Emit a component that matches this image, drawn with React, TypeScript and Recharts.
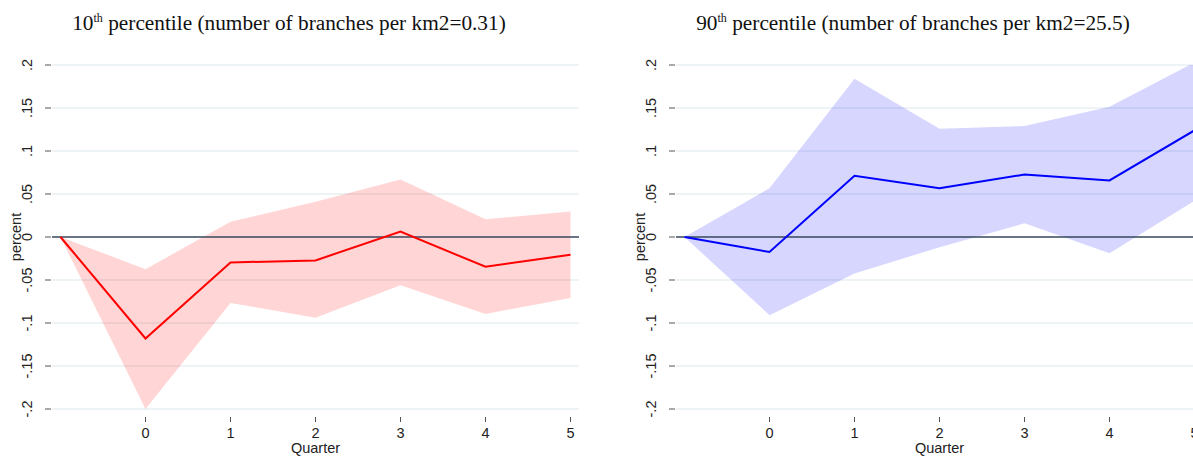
import { ComposedChart, Area, Line, XAxis, YAxis, CartesianGrid, ReferenceLine, Label } from 'recharts';

const QUARTERS = [-1, 0, 1, 2, 3, 4, 5];
const X_TICKS = [0, 1, 2, 3, 4, 5];
const Y_TICKS = [-0.2, -0.15, -0.1, -0.05, 0, 0.05, 0.1, 0.15, 0.2];

// 10th percentile panel
const LOW_EST = [0, -0.118, -0.0296, -0.0272, 0.0062, -0.0346, -0.0206];
const LOW_UPPER = [0, -0.0374, 0.0176, 0.041, 0.0669, 0.0206, 0.0296];
const LOW_LOWER = [0, -0.2, -0.0767, -0.0938, -0.056, -0.0895, -0.0708];

// 90th percentile panel
const HIGH_EST = [0, -0.0175, 0.0711, 0.0567, 0.0726, 0.0658, 0.124];
const HIGH_UPPER = [0, 0.0567, 0.184, 0.1258, 0.129, 0.1515, 0.203];
const HIGH_LOWER = [0, -0.0909, -0.0423, -0.012, 0.0159, -0.019, 0.042];

const FONT = '"Liberation Sans", Arial, sans-serif';

const fmtY = (v: number) => {
  if (v === 0) return '0';
  return (v < 0 ? '-' : '') + String(Math.abs(v)).replace(/^0/, '');
};

function YTick(props: any) {
  const { x, y, payload } = props;
  return (
    <g>
      <line x1={x - 7} x2={x - 1} y1={y} y2={y} stroke="#555" strokeWidth={1} />
      <text
        x={x - 20}
        y={y}
        transform={`rotate(-90 ${x - 20} ${y})`}
        textAnchor="middle"
        fontSize={14.5}
        fontFamily={FONT}
        fill="#222"
      >
        {fmtY(payload.value)}
      </text>
    </g>
  );
}

function XTick(props: any) {
  const { x, y, payload } = props;
  return (
    <g>
      <line x1={x} x2={x} y1={y + 8} y2={y + 13} stroke="#555" strokeWidth={1} />
      <text x={x} y={y + 29} textAnchor="middle" fontSize={14.5} fontFamily={FONT} fill="#222">
        {payload.value}
      </text>
    </g>
  );
}

function QuarterLabel(props: any) {
  const vb = props.viewBox || {};
  return (
    <text x={vb.x + vb.width / 2} y={vb.y + 44} textAnchor="middle" fontSize={14.5} fontFamily={FONT} fill="#222">
      Quarter
    </text>
  );
}

function PercentLabel(props: any) {
  const vb = props.viewBox || {};
  const cy = vb.y + vb.height / 2;
  const lx = 21;
  return (
    <text
      x={lx}
      y={cy}
      transform={`rotate(-90 ${lx} ${cy})`}
      textAnchor="middle"
      fontSize={14.5}
      fontFamily={FONT}
      fill="#222"
    >
      percent
    </text>
  );
}

function Panel({ est, upper, lower, color, band }: { est: number[]; upper: number[]; lower: number[]; color: string; band: string }) {
  const data = QUARTERS.map((q, i) => ({ q, est: est[i], band: [lower[i], upper[i]] }));
  return (
    <ComposedChart width={600} height={456} data={data} margin={{ top: 65, right: 21, bottom: 0, left: 0 }}>
      <CartesianGrid horizontal vertical={false} stroke="#e9eff3" strokeWidth={1.5} />
      <XAxis
        type="number"
        dataKey="q"
        domain={[-1.1, 5.1]}
        ticks={X_TICKS}
        allowDataOverflow
        axisLine={false}
        tickLine={false}
        tickSize={0}
        tickMargin={0}
        height={47}
        tick={<XTick />}
      >
        <Label content={<QuarterLabel />} />
      </XAxis>
      <YAxis
        type="number"
        domain={[-0.2, 0.2]}
        ticks={Y_TICKS}
        allowDataOverflow
        axisLine={false}
        tickLine={false}
        tickSize={0}
        tickMargin={0}
        width={52}
        tick={<YTick />}
      >
        <Label content={<PercentLabel />} />
      </YAxis>
      <Area dataKey="band" stroke="none" fill={band} fillOpacity={1} isAnimationActive={false} type="linear" />
      <ReferenceLine y={0} stroke="#3c4a5e" strokeWidth={1.5} />
      <Line dataKey="est" stroke={color} strokeWidth={2} dot={false} isAnimationActive={false} type="linear" />
    </ComposedChart>
  );
}

const titleStyle: React.CSSProperties = {
  position: 'absolute',
  top: 13,
  width: 578,
  textAlign: 'center',
  fontFamily: '"Liberation Serif", "Times New Roman", serif',
  fontSize: 21.3,
  lineHeight: '21px',
  color: '#111',
  whiteSpace: 'nowrap',
};

const supStyle: React.CSSProperties = { fontSize: 12, verticalAlign: 'super', lineHeight: 0 };

export default function App() {
  return (
    <div style={{ position: 'fixed', left: 0, top: 0, width: 1193, height: 456, overflow: 'hidden', background: '#fff' }}>
      <div style={{ ...titleStyle, left: 0 }}>
        10<span style={supStyle}>th</span> percentile (number of branches per km2=0.31)
      </div>
      <div style={{ ...titleStyle, left: 624 }}>
        90<span style={supStyle}>th</span> percentile (number of branches per km2=25.5)
      </div>
      <div style={{ position: 'absolute', left: 0, top: 0 }}>
        <Panel est={LOW_EST} upper={LOW_UPPER} lower={LOW_LOWER} color="#ff0000" band="rgba(255,0,0,0.165)" />
      </div>
      <div style={{ position: 'absolute', left: 624, top: 0 }}>
        <Panel est={HIGH_EST} upper={HIGH_UPPER} lower={HIGH_LOWER} color="#0000ff" band="rgba(0,0,255,0.16)" />
      </div>
    </div>
  );
}
